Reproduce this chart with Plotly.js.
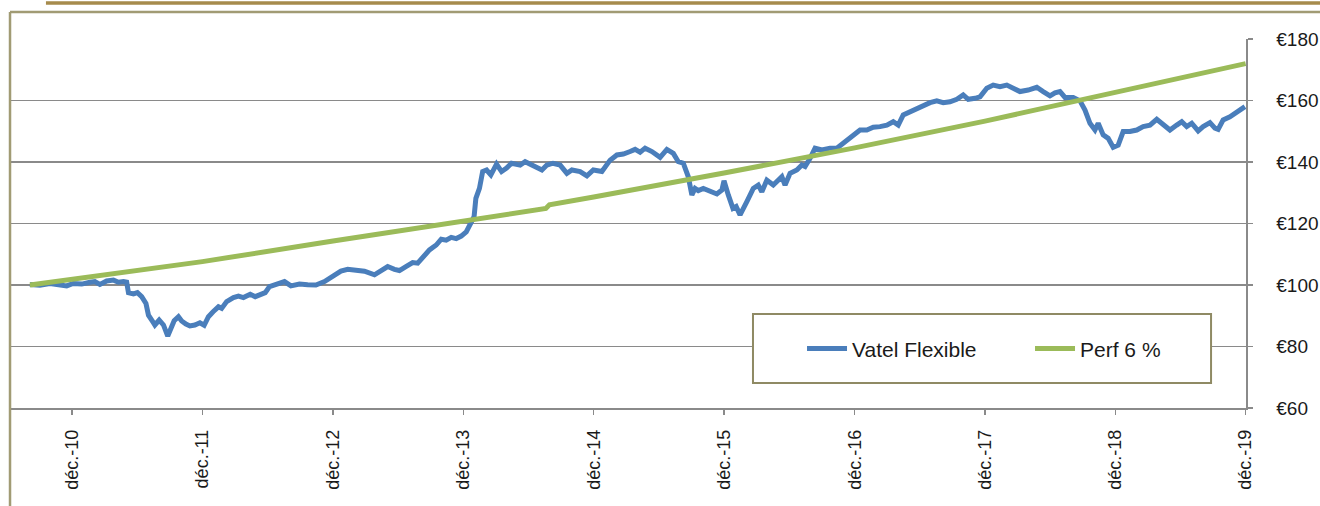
<!DOCTYPE html>
<html>
<head>
<meta charset="utf-8">
<script src="https://cdn.plot.ly/plotly-3.0.1.min.js"></script>
<style>
  html, body { margin: 0; padding: 0; background: #ffffff; }
  #chart { width: 1320px; height: 506px; }
</style>
</head>
<body>
<div id="chart"></div>
<script>
// ---- Data ----
const vatelDates = [
  "2010-08-05","2010-09-02","2010-09-30","2010-10-28","2010-11-16","2010-12-04","2010-12-28",
  "2011-01-20","2011-02-03","2011-02-17","2011-03-08","2011-03-27","2011-04-10","2011-04-24",
  "2011-05-03","2011-05-08","2011-05-22","2011-06-02","2011-06-14","2011-06-26","2011-07-03",
  "2011-07-15","2011-07-21","2011-08-02","2011-08-14","2011-08-26","2011-09-03","2011-09-13",
  "2011-09-25","2011-10-04","2011-10-16","2011-10-27","2011-11-10","2011-11-24","2011-12-06",
  "2011-12-18","2011-12-31","2012-01-15","2012-01-24","2012-02-07","2012-02-26","2012-03-11",
  "2012-03-25","2012-04-13","2012-04-27","2012-05-11","2012-05-25","2012-06-06","2012-06-20",
  "2012-07-18","2012-08-05","2012-08-29","2012-09-21","2012-10-14","2012-11-07","2012-11-30",
  "2012-12-23","2013-01-11","2013-02-03","2013-02-27","2013-03-27","2013-04-19","2013-05-03",
  "2013-05-22","2013-06-05","2013-06-23","2013-07-12","2013-07-26","2013-08-09","2013-08-28",
  "2013-09-16","2013-09-30","2013-10-14","2013-10-28","2013-11-11","2013-11-25","2013-12-09",
  "2013-12-23","2013-12-31","2014-01-05","2014-01-15","2014-01-24","2014-02-04","2014-02-16",
  "2014-03-04","2014-03-18","2014-04-01","2014-04-15","2014-05-09","2014-05-23","2014-06-14",
  "2014-07-09","2014-07-23","2014-08-09","2014-08-29","2014-09-17","2014-10-01","2014-10-24",
  "2014-11-12","2014-11-30","2014-12-24","2015-01-16","2015-02-04","2015-02-22","2015-03-13",
  "2015-03-27","2015-04-10","2015-04-24","2015-05-13","2015-06-05","2015-06-24","2015-07-12",
  "2015-07-26","2015-08-09","2015-08-23","2015-09-02","2015-09-11","2015-09-20","2015-10-04",
  "2015-10-23","2015-11-11","2015-11-25","2015-12-01","2015-12-13","2015-12-26","2016-01-04",
  "2016-01-15","2016-02-03","2016-02-21","2016-03-06","2016-03-16","2016-03-30","2016-04-17",
  "2016-05-11","2016-05-20","2016-06-03","2016-06-22","2016-07-06","2016-07-15","2016-07-29",
  "2016-08-12","2016-08-31","2016-09-23","2016-10-12","2016-11-04","2016-11-23","2016-12-16",
  "2017-01-04","2017-01-22","2017-02-10","2017-03-01","2017-03-19","2017-04-02","2017-04-16",
  "2017-05-05","2017-05-24","2017-06-11","2017-06-30","2017-07-19","2017-08-06","2017-08-25",
  "2017-09-13","2017-10-01","2017-10-15","2017-11-03","2017-11-17","2017-12-06","2017-12-24",
  "2018-01-12","2018-01-31","2018-02-18","2018-03-09","2018-04-01","2018-04-25","2018-05-13",
  "2018-06-01","2018-06-15","2018-06-29","2018-07-13","2018-08-05","2018-08-24","2018-09-07",
  "2018-09-21","2018-10-05","2018-10-14","2018-10-28","2018-11-11","2018-11-25","2018-12-09",
  "2018-12-23","2019-01-11","2019-01-30","2019-02-17","2019-03-08","2019-03-27","2019-04-14",
  "2019-05-03","2019-05-22","2019-06-05","2019-06-19","2019-07-03","2019-07-21","2019-08-04",
  "2019-08-23","2019-09-06","2019-09-15","2019-09-29","2019-10-18","2019-11-01","2019-11-15",
  "2019-11-29"
];
const vatelValues = [
  100.2, 99.9, 100.5, 100.0, 99.7, 100.5, 100.3,
  100.9, 101.1, 100.2, 101.3, 101.6, 100.9, 101.1,
  100.9, 97.5, 97.1, 97.5, 96.2, 94.0, 90.2,
  88.1, 87.0, 88.6, 87.0, 83.4, 85.4, 88.4,
  89.7, 88.3, 87.3, 86.7, 87.0, 87.7, 86.9,
  89.7, 91.3, 92.9, 92.4, 94.6, 95.9, 96.4,
  95.9, 97.0, 96.2, 96.7, 97.5, 99.5, 100.0,
  101.1, 99.7, 100.3, 100.1, 100.0, 101.1, 102.7,
  104.5, 105.1, 104.9, 104.5, 103.3, 105.1, 106.0,
  105.1, 104.7, 106.0, 107.3, 107.1, 109.0, 111.4,
  113.0, 114.9, 114.6, 115.5, 115.1, 115.9, 117.3,
  120.1, 122.2, 128.2, 131.4, 136.9, 137.4, 135.8,
  139.3, 136.9, 138.0, 139.6, 139.0, 140.1, 139.0,
  137.4, 139.0, 139.6, 139.0, 136.3, 137.4, 136.9,
  135.5, 137.4, 136.9, 140.6, 142.3, 142.6, 143.4,
  144.1, 143.2, 144.5, 143.4, 141.5, 144.1, 142.8,
  140.1, 139.6, 135.2, 129.3, 131.4, 130.7, 131.4,
  130.3, 129.6, 130.9, 133.9, 129.3, 124.9, 125.5,
  122.8, 127.1, 131.4, 132.5, 130.3, 134.1, 132.5,
  135.2, 132.5, 136.3, 137.4, 139.0, 138.5, 141.2,
  144.5, 143.9, 144.5, 144.5, 146.6, 148.2, 150.4,
  150.4, 151.3, 151.5, 152.0, 153.1, 152.0, 155.3,
  156.4, 157.5, 158.5, 159.3, 159.9, 159.3, 159.6,
  160.4, 161.8, 160.4, 160.7, 161.2, 164.0, 165.0,
  164.5, 165.0, 164.0, 162.9, 163.4, 164.3, 162.9,
  161.5, 162.5, 162.9, 161.0, 161.0, 159.9, 156.9,
  152.6, 150.4, 152.6, 148.8, 147.7, 144.8, 145.5,
  149.9, 149.9, 150.4, 151.5, 152.0, 153.9, 152.4,
  150.4, 152.0, 153.1, 151.5, 152.6, 150.1, 151.5,
  152.8, 151.0, 150.6, 153.7, 154.7, 155.8, 156.9,
  158.0
];
const perfDates = [
  "2010-08-05","2010-12-01","2011-12-01","2012-12-01","2013-12-01",
  "2014-07-20","2014-07-30","2014-12-01","2015-12-01","2016-12-01",
  "2017-12-01","2018-12-01","2019-12-01"
];
const perfValues = [
  100.0, 101.9, 107.6, 114.3, 120.9,
  124.9, 126.1, 128.6, 136.4, 144.6,
  153.3, 162.5, 172.0
];
const xTickDates = ["2010-12-01","2011-12-01","2012-12-01","2013-12-01","2014-12-01",
                    "2015-12-01","2016-12-01","2017-12-01","2018-12-01","2019-12-01"];
const xTickLabels = ["déc.-10","déc.-11","déc.-12","déc.-13","déc.-14",
                     "déc.-15","déc.-16","déc.-17","déc.-18","déc.-19"];
const yTickValues = [60, 80, 100, 120, 140, 160, 180];
const yTickLabels = ["€60", "€80", "€100", "€120", "€140", "€160", "€180"];
const seriesNames = ["Vatel Flexible", "Perf 6 %"];

// ---- Chart ----
const FONT = "Liberation Sans, Arial, sans-serif";
const GRID = "#8a8a8a";
const TEXT = "#1a1a1a";

const traces = [
  {
    x: vatelDates, y: vatelValues, name: seriesNames[0],
    type: "scatter", mode: "lines",
    line: { color: "#4a7ebb", width: 5 }
  },
  {
    x: perfDates, y: perfValues, name: seriesNames[1],
    type: "scatter", mode: "lines",
    line: { color: "#9bbb59", width: 5 }
  }
];

const layout = {
  width: 1320, height: 506,
  margin: { l: 11, r: 74, t: 39, b: 98, pad: 0, autoexpand: false },
  paper_bgcolor: "#ffffff",
  plot_bgcolor: "#ffffff",
  font: { family: FONT, size: 18, color: TEXT },
  showlegend: true,
  legend: {
    orientation: "h",
    x: 0.6405, xanchor: "left",
    y: 0.16, yanchor: "middle",
    bgcolor: "rgba(0,0,0,0)",
    borderwidth: 0,
    font: { family: FONT, size: 21, color: TEXT },
    entrywidth: 173, entrywidthmode: "pixels",
    itemwidth: 40
  },
  xaxis: {
    type: "date",
    range: ["2010-06-13", "2019-12-02"],
    tickmode: "array",
    tickvals: xTickDates,
    ticktext: xTickLabels,
    tickangle: -90,
    ticks: "outside", ticklen: 5, tickwidth: 1.5, tickcolor: GRID,
    ticklabelstandoff: 8,
    showgrid: false,
    showline: true, linecolor: GRID, linewidth: 1.5,
    zeroline: false,
    automargin: false,
    tickfont: { family: FONT, size: 18, color: TEXT },
    fixedrange: true
  },
  yaxis: {
    side: "right",
    range: [60, 180],
    tickmode: "array",
    tickvals: yTickValues,
    ticktext: yTickLabels,
    ticks: "outside", ticklen: 5, tickwidth: 1.5, tickcolor: GRID,
    ticklabelstandoff: 20,
    showgrid: true, gridcolor: GRID, gridwidth: 1.5,
    showline: true, linecolor: GRID, linewidth: 1.5,
    zeroline: false,
    automargin: false,
    tickfont: { family: FONT, size: 19, color: TEXT },
    fixedrange: true
  },
  shapes: [
    // legend box
    { type: "rect", xref: "paper", yref: "paper",
      x0: 0.6008, x1: 0.9717, y0: 0.0678, y1: 0.2547,
      fillcolor: "#ffffff", line: { color: "#8f8a64", width: 2 }, layer: "above" },
    // top gold rule
    { type: "line", xref: "paper", yref: "paper",
      x0: 0.0283, x1: 1.07, y0: 1.0976, y1: 1.0976,
      line: { color: "#a68b4c", width: 3.5 } },
    // frame top
    { type: "line", xref: "paper", yref: "paper",
      x0: -0.0008, x1: 1.07, y0: 1.0732, y1: 1.0732,
      line: { color: "#a19b74", width: 2.5 } },
    // frame left
    { type: "line", xref: "paper", yref: "paper",
      x0: -0.0008, x1: -0.0008, y0: 1.0732, y1: -0.28,
      line: { color: "#a19b74", width: 2.5 } }
  ]
};

Plotly.newPlot("chart", traces, layout, { staticPlot: true, displayModeBar: false });
</script>
</body>
</html>
